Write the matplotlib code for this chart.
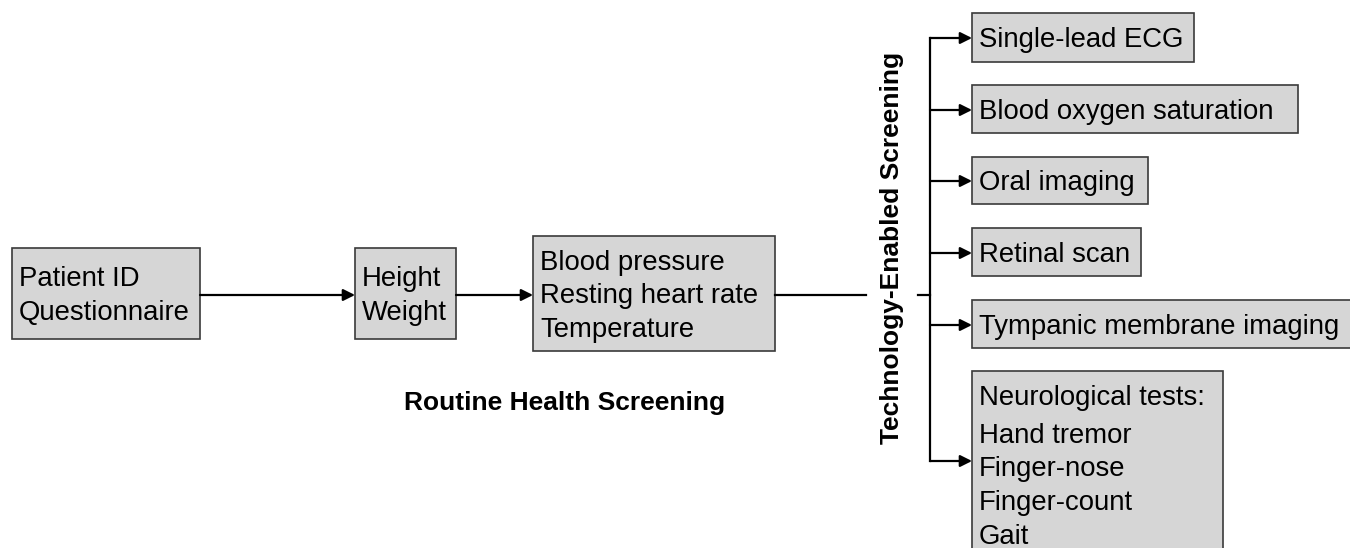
import matplotlib.pyplot as plt
from matplotlib.patches import Rectangle

plt.rcParams['font.family'] = ['Liberation Sans', 'DejaVu Sans']

# ------------------------------
# Labels
# ------------------------------
routine_labels = [
    ["Patient ID", "Questionnaire"],
    ["Height", "Weight"],
    ["Blood pressure", "Resting heart rate", "Temperature"],
]
tech_labels = [
    ["Single-lead ECG"],
    ["Blood oxygen saturation"],
    ["Oral imaging"],
    ["Retinal scan"],
    ["Tympanic membrane imaging"],
    ["Neurological tests:", "Hand tremor", "Finger-nose", "Finger-count", "Gait"],
]
routine_title = "Routine Health Screening"
tech_title = "Technology-Enabled Screening"

# ------------------------------
# Layout (pixel coords, y down)
# ------------------------------
routine_boxes = [(12, 248, 200, 339), (355, 248, 456, 339), (533, 236, 775, 351)]
tech_boxes = [(972, 13, 1194, 62), (972, 85, 1298, 133), (972, 157, 1148, 204),
              (972, 228, 1141, 276), (972, 300, 1352, 348), (972, 371, 1223, 560)]
branch_y = [38, 110, 181, 253, 325, 461]
main_y = 295
trunk_x = 930
fs = 19.8      # box text
fs_title = 19  # bold captions
line_gap = 33.5
cap = 19.5

fig = plt.figure(figsize=(13.5, 5.48), dpi=100)
ax = fig.add_axes([0, 0, 1, 1])
ax.set_xlim(0, 1350)
ax.set_ylim(548, 0)
ax.axis('off')

def draw_box(box, lines, first_base=None, gaps=None):
    x0, y0, x1, y1 = box
    ax.add_patch(Rectangle((x0, y0), x1 - x0, y1 - y0, facecolor='#d6d6d6',
                           edgecolor='#3a3a3a', lw=1.2, zorder=1))
    n = len(lines)
    if first_base is None:
        cy = (y0 + y1) / 2
        bases = [cy + (i - (n - 1) / 2) * line_gap + cap / 2 for i in range(n)]
    else:
        bases = [first_base]
        for g in gaps:
            bases.append(bases[-1] + g)
    for s, b in zip(lines, bases):
        ax.text(x0 + 7, b, s, fontsize=fs, ha='left', va='baseline', zorder=2)

def arrow(x0, x1, y):
    ax.annotate('', xy=(x1, y), xytext=(x0, y),
                arrowprops=dict(arrowstyle='-|>,head_length=0.7,head_width=0.35',
                                color='black', lw=1.6, shrinkA=0, shrinkB=0))

for box, lines in zip(routine_boxes, routine_labels):
    draw_box(box, lines)

for box, lines in zip(tech_boxes[:-1], tech_labels[:-1]):
    draw_box(box, lines)
draw_box(tech_boxes[-1], tech_labels[-1], first_base=405, gaps=[38, 33.5, 33.5, 33.5])

# main flow
arrow(routine_boxes[0][2], routine_boxes[1][0], main_y)
arrow(routine_boxes[1][2], routine_boxes[2][0], main_y)
ax.plot([routine_boxes[2][2], 866], [main_y, main_y], color='black', lw=1.6)
ax.plot([918, trunk_x], [main_y, main_y], color='black', lw=1.6)

# tech trunk + branches
ax.plot([trunk_x, trunk_x], [branch_y[0], branch_y[-1]], color='black', lw=1.6)
for y in branch_y:
    arrow(trunk_x, tech_boxes[0][0], y)

ax.text(892, 248, tech_title, rotation=90, fontsize=fs_title, fontweight='bold',
        ha='center', va='center')
ax.text(565, 410, routine_title, fontsize=fs_title, fontweight='bold',
        ha='center', va='baseline')

fig.savefig('out.png', dpi=100)
